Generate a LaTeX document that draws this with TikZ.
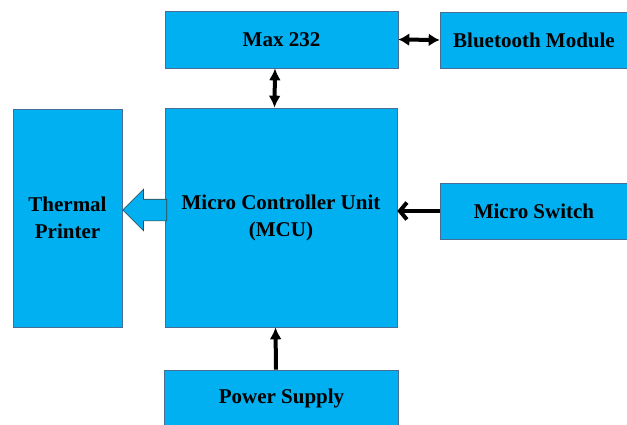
\documentclass[tikz,border=0pt]{standalone}
\usepackage{fontspec}
\setmainfont{Liberation Serif}
\usepackage{tikz}
\usetikzlibrary{arrows.meta, positioning, shapes.arrows}

\definecolor{boxblue}{RGB}{0,176,240}
\definecolor{boxline}{RGB}{70,110,150}

\begin{document}
\begin{tikzpicture}[x=1pt, y=-1pt,
  block/.style={rectangle, fill=boxblue, draw=boxline, line width=0.6pt,
    align=center, font=\bfseries\fontsize{21}{27}\selectfont},
  link/.style={line width=4pt, black}]
  \useasboundingbox (0,0) rectangle (627,424);
  % Blocks
  \node[block, minimum width=233, minimum height=57] (max) at (281.5,39.5) {Max 232};
  \node[block, minimum width=188, minimum height=56] (bt) at (534,40) {Bluetooth Module};
  \node[block, minimum width=232, minimum height=219] (mcu) at (281,217.5) {Micro Controller Unit\\(MCU)};
  \node[block, minimum width=109, minimum height=218] (tp) at (67.5,218) {Thermal\\Printer};
  \node[block, minimum width=188, minimum height=56] (sw) at (534,211) {Micro Switch};
  \node[block, minimum width=234, minimum height=56] (ps) at (281.5,398) {Power Supply};
  % Serial links
  \draw[link, {Latex[length=11pt,width=13pt]}-{Latex[length=11pt,width=13pt]}] (max.east) -- (bt.west);
  \draw[link, {Latex[length=12pt,width=12pt]}-{Latex[length=12pt,width=12pt]}]
    ([xshift=-6.5pt]max.south) -- ([xshift=-6.5pt]mcu.north);
  % Inputs
  \draw[link, -{Straight Barb[length=7pt,width=17pt]}] (sw.west) -- (sw.west -| mcu.east);
  \draw[link, -{Latex[length=12pt,width=12pt]}] ([xshift=-5.5pt]ps.north) -- ([xshift=-5.5pt]mcu.south);
  % Output to printer
  \node[single arrow, shape border rotate=180, fill=boxblue, draw=black!75, line width=0.6pt,
    minimum height=44, minimum width=41, single arrow head extend=10pt,
    inner sep=10.5pt, anchor=tip] (out) at ([yshift=8pt]tp.east) {};
\end{tikzpicture}
\end{document}
